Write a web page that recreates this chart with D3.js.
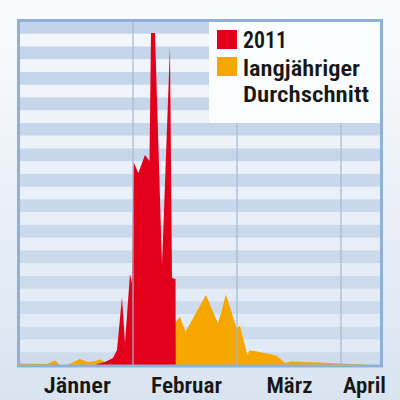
<!DOCTYPE html>
<html>
<head>
<meta charset="utf-8">
<script src="https://cdn.jsdelivr.net/npm/d3@7"></script>
<style>
  html, body { margin: 0; padding: 0; background: #ffffff; }
  svg { display: block; }
  .lbl { font-family: "Liberation Sans Narrow", "Roboto Condensed", "Roboto", sans-serif; font-weight: 600; fill: #161616; }
</style>
</head>
<body>
<svg id="chart"></svg>
<script>
// month labels and where they sit (in month units, 0 = 1 Jänner)
const monthNames = ['Jänner', 'Februar', 'März', 'April'];
const monthStartDays = [0, 31, 59, 90, 120];
const labelMonths = [0.46, 1.51, 2.5, 3.22];
const labelWidths = [67, 71, 46, 43];

// 2011 series (day of year, value)
const days2011 = [20.0, 20.3, 22.65, 25.04, 26.23, 27.72, 28.61, 30.1, 30.7, 31.13, 32.43, 34.23, 35.44, 35.85, 36.92, 38.81, 40.96, 41.5, 42.44, 42.5];
const values2011 = [0, 0.8, 2.4, 5.5, 11.8, 53.4, 17.3, 71.4, 64.4, 159.3, 150.7, 164.8, 160.1, 260.6, 260.6, 78.5, 250.4, 68.3, 67.5, 0];

// long-term average (day of year, value)
const daysAvg = [-2.7, 5.37, 7.75, 9.24, 11.33, 15.2, 17.6, 19.7, 21.2, 22.65, 25, 28, 31, 34, 37, 40, 42.4, 42.58, 43.65, 45.13, 50.65, 53.88, 56.04, 58.87, 59.89, 62.1, 62.7, 64.07, 69.44, 70.93, 73.31, 75.1, 83.74, 89.7, 96.2, 97.4];
const valuesAvg = [1.2, 0.8, 3.5, 0, 0, 4.7, 2.4, 3.1, 4.3, 2.4, 3, 9, 16, 26, 30, 34, 35, 34, 37.9, 26.1, 54.9, 32.6, 55.3, 29, 30.6, 7.8, 11.4, 11.0, 8.2, 7.1, 1.6, 2.7, 2.0, 1.2, 0.4, 0];

const legendLabels = [['2011'], ['langjähriger', 'Durchschnitt']];
const legendWidths = [[44], [117, 126]];
const seriesColors = ['#e2001a', '#f5a700'];

const width = 400, height = 400;
const plot = {left: 20, right: 380, top: 21, bottom: 365};

const svg = d3.select('#chart').attr('width', width).attr('height', height);
const defs = svg.append('defs');

const bgGrad = defs.append('linearGradient').attr('id', 'bg')
  .attr('x1', 0).attr('y1', 0).attr('x2', 0).attr('y2', 1);
bgGrad.append('stop').attr('offset', '0%').attr('stop-color', '#fbfcfe');
bgGrad.append('stop').attr('offset', '100%').attr('stop-color', '#d9e4f1');

const lightGrad = defs.append('linearGradient').attr('id', 'light')
  .attr('gradientUnits', 'userSpaceOnUse')
  .attr('x1', 0).attr('y1', plot.top).attr('x2', 0).attr('y2', plot.bottom);
lightGrad.append('stop').attr('offset', '0%').attr('stop-color', '#f4f7fc');
lightGrad.append('stop').attr('offset', '100%').attr('stop-color', '#e0e9f4');

const blueGrad = defs.append('linearGradient').attr('id', 'blue')
  .attr('gradientUnits', 'userSpaceOnUse')
  .attr('x1', 0).attr('y1', plot.top).attr('x2', 0).attr('y2', plot.bottom);
blueGrad.append('stop').attr('offset', '0%').attr('stop-color', '#c3d4ea');
blueGrad.append('stop').attr('offset', '100%').attr('stop-color', '#cfdcec');

svg.append('rect').attr('width', width).attr('height', height).attr('fill', 'url(#bg)');

// scales
const toMonth = d3.scaleLinear().domain(monthStartDays).range(d3.range(monthStartDays.length));
const x = d3.scaleLinear().domain([-0.0865, 3.375]).range([plot.left, plot.right]);
const y = d3.scaleLinear().domain([0, 270]).range([plot.bottom, plot.top]);
const xd = d => x(toMonth(d));

// striped background
svg.append('rect')
  .attr('x', plot.left).attr('y', plot.top)
  .attr('width', plot.right - plot.left).attr('height', plot.bottom - plot.top)
  .attr('fill', 'url(#light)');

const bands = d3.range(270, 0, -20);
svg.append('g').selectAll('rect')
  .data(bands)
  .join('rect')
  .attr('x', plot.left)
  .attr('y', d => y(d))
  .attr('width', plot.right - plot.left)
  .attr('height', d => y(d - 10) - y(d))
  .attr('fill', 'url(#blue)');

// areas
const area = d3.area()
  .x(d => xd(d[0]))
  .y0(y(0))
  .y1(d => y(d[1]));

svg.append('path')
  .datum(d3.zip(daysAvg, valuesAvg))
  .attr('d', area)
  .attr('fill', seriesColors[1]);

svg.append('path')
  .datum(d3.zip(days2011, values2011))
  .attr('d', area)
  .attr('fill', seriesColors[0]);

// month gridlines
svg.append('g').selectAll('line')
  .data(monthStartDays.slice(1, 4))
  .join('line')
  .attr('x1', d => xd(d)).attr('x2', d => xd(d))
  .attr('y1', plot.top).attr('y2', plot.bottom)
  .attr('stroke', '#a2b9d6')
  .attr('stroke-width', 1.2);

// legend box
const legendTop = y(190);
svg.append('rect')
  .attr('x', 209).attr('y', plot.top)
  .attr('width', plot.right - 209).attr('height', legendTop - plot.top)
  .attr('fill', '#fbfcfe');

const legend = svg.append('g');
const legendRows = [{sq: 30, base: [48], size: 24}, {sq: 57, base: [75.5, 102], size: 22}];
legendLabels.forEach((lines, i) => {
  legend.append('rect')
    .attr('x', 217).attr('y', legendRows[i].sq)
    .attr('width', 20).attr('height', 19)
    .attr('fill', seriesColors[i]);
  lines.forEach((t, j) => {
    legend.append('text')
      .attr('class', 'lbl')
      .attr('x', 243).attr('y', legendRows[i].base[j])
      .attr('textLength', legendWidths[i][j])
      .attr('lengthAdjust', 'spacingAndGlyphs')
      .style('font-size', legendRows[i].size + 'px')
      .text(t);
  });
});

// frame
svg.append('rect')
  .attr('x', 18.5).attr('y', 20.5)
  .attr('width', 363).attr('height', 345.5)
  .attr('fill', 'none')
  .attr('stroke', '#8fb1d8')
  .attr('stroke-width', 3);

// month labels
const axis = svg.append('g')
  .attr('transform', `translate(0, ${plot.bottom})`)
  .call(d3.axisBottom(x).tickValues(labelMonths).tickSize(0).tickPadding(0)
    .tickFormat((d, i) => monthNames[i]));
axis.select('.domain').remove();
axis.selectAll('text')
  .attr('class', 'lbl')
  .attr('dy', null)
  .attr('y', 28)
  .attr('fill', null)
  .attr('textLength', (d, i) => labelWidths[i])
  .attr('lengthAdjust', 'spacingAndGlyphs')
  .style('font-size', '22px');
</script>
</body>
</html>
